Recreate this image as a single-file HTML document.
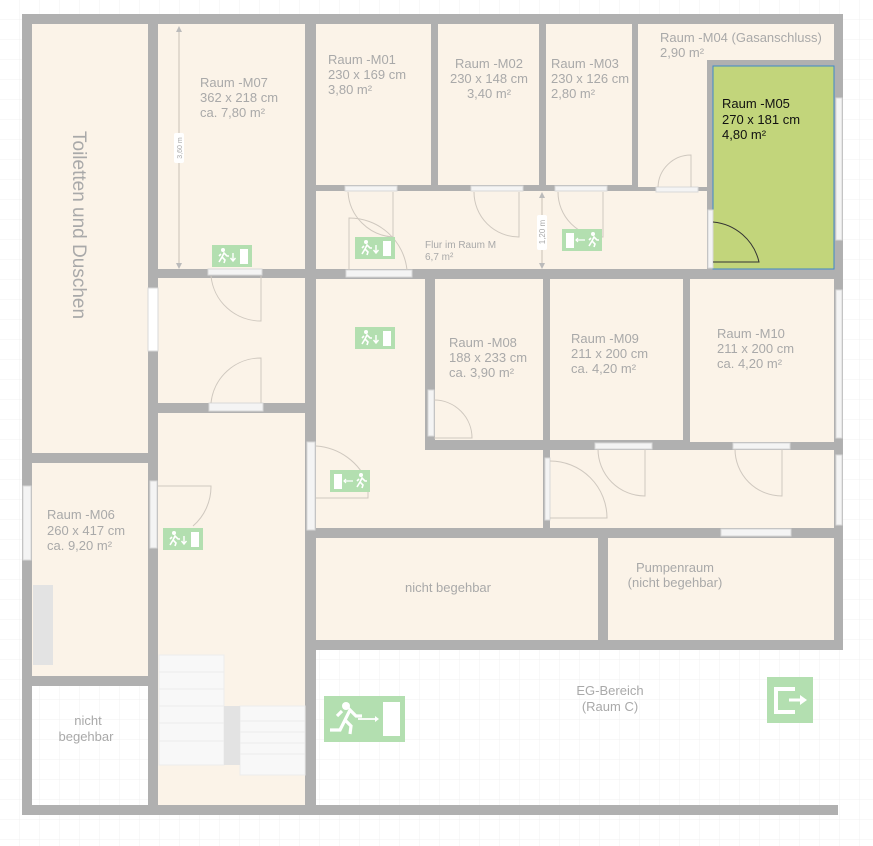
<!DOCTYPE html>
<html><head><meta charset="utf-8"><style>
html,body{margin:0;padding:0;width:873px;height:846px;overflow:hidden;background:#fff}
svg{display:block}
text{font-family:"Liberation Sans",sans-serif;fill:#a9a9a9;font-size:13px}
</style></head><body>
<svg width="873" height="846" viewBox="0 0 873 846" xmlns="http://www.w3.org/2000/svg">
<defs>
<pattern id="g" width="20" height="20" patternUnits="userSpaceOnUse"><path d="M20 0V20M0 20H20" stroke="#f0f0f0" stroke-width="1" fill="none"/></pattern>
<g id="ex">
<rect width="40" height="22" fill="#b3dfb0"/>
<circle cx="11" cy="5" r="2" fill="#fff"/>
<path d="M7 17l3-5 2-4 3 3h2M10 12l3 3-1 3M9 9l-2 2" stroke="#fff" stroke-width="1.6" fill="none"/>
<path d="M21 8v8M18.5 13l2.5 3 2.5-3" stroke="#fff" stroke-width="1.4" fill="none"/>
<rect x="28" y="4" width="8" height="15" fill="#fff"/>
</g>
<g id="exl">
<rect width="40" height="22" fill="#b3dfb0"/>
<rect x="4" y="4" width="8" height="15" fill="#fff"/>
<path d="M14 11h9M16 9l-2 2 2 2" stroke="#fff" stroke-width="1.2" fill="none"/>
<circle cx="31" cy="5" r="2" fill="#fff"/>
<path d="M27 17l3-5 2-4 3 3h2M30 12l3 3-1 3M29 9l-2 2" stroke="#fff" stroke-width="1.6" fill="none"/>
</g>
</defs>
<rect width="873" height="846" fill="url(#g)"/>
<!-- walls -->
<rect x="22" y="14" width="821" height="636" fill="#b0b0b0"/>
<rect x="22" y="450" width="294" height="365" fill="#b0b0b0"/>
<rect x="305" y="640" width="538" height="10" fill="#b0b0b0"/>
<rect x="22" y="805" width="816" height="10" fill="#b0b0b0"/>
<rect x="316" y="650" width="527" height="155" fill="#fff"/>
<rect x="316" y="650" width="527" height="155" fill="url(#g)"/>
<!-- floors -->
<g fill="#fbf3e8">
<rect x="32" y="24" width="116" height="429"/>
<rect x="158" y="24" width="147" height="245"/>
<rect x="316" y="24" width="115" height="161"/>
<rect x="438" y="24" width="101" height="161"/>
<rect x="546" y="24" width="86" height="161"/>
<rect x="638" y="24" width="196" height="36"/>
<rect x="638" y="24" width="69" height="163"/>
<rect x="316" y="191" width="391" height="78"/>
<rect x="158" y="278" width="147" height="125"/>
<rect x="158" y="413" width="147" height="392"/>
<rect x="316" y="279" width="109" height="249"/>
<rect x="316" y="450" width="227" height="78"/>
<rect x="435" y="279" width="108" height="161"/>
<rect x="550" y="279" width="133" height="161"/>
<rect x="690" y="279" width="144" height="163"/>
<rect x="550" y="450" width="284" height="78"/>
<rect x="316" y="538" width="282" height="102"/>
<rect x="608" y="538" width="226" height="102"/>
<rect x="32" y="463" width="116" height="213"/>
</g>
<rect x="32" y="686" width="116" height="119" fill="#fff"/>
<rect x="32" y="686" width="116" height="119" fill="url(#g)"/>
<rect x="713" y="66" width="121" height="203" fill="#c2d57b" stroke="#3e88c8" stroke-width="1"/>
<rect x="33" y="585" width="20" height="80" fill="#e3e3e3"/>
<!-- stairs -->
<g fill="#f8f8f8" stroke="#ececec">
<rect x="159" y="655" width="65" height="17"/><rect x="159" y="672" width="65" height="17"/><rect x="159" y="689" width="65" height="17"/><rect x="159" y="706" width="65" height="17"/><rect x="159" y="723" width="65" height="18"/><rect x="159" y="741" width="65" height="24"/>
<rect x="240" y="706" width="65" height="15"/><rect x="240" y="721" width="65" height="11"/><rect x="240" y="732" width="65" height="11"/><rect x="240" y="743" width="65" height="11"/><rect x="240" y="754" width="65" height="21"/>
</g>
<rect x="224" y="706" width="16" height="59" fill="#e3e3e3"/>
<!-- windows / door frames -->
<g fill="#f4f4f4" stroke="#d8d8d8" stroke-width="1">
<rect x="148" y="288" width="10" height="63" fill="#fff"/>
<rect x="23" y="486" width="8" height="74"/>
<rect x="150" y="481" width="7" height="67"/>
<rect x="208" y="269" width="54" height="6"/>
<rect x="209" y="403" width="54" height="8"/>
<rect x="345" y="186" width="52" height="5"/>
<rect x="346" y="270" width="66" height="7"/>
<rect x="471" y="186" width="52" height="5"/>
<rect x="555" y="186" width="52" height="5"/>
<rect x="656" y="187" width="42" height="5"/>
<rect x="708" y="210" width="5" height="58"/>
<rect x="836" y="98" width="6" height="142"/>
<rect x="836" y="290" width="6" height="148"/>
<rect x="836" y="455" width="6" height="70"/>
<rect x="307" y="442" width="8" height="88" />
<rect x="428" y="390" width="6" height="46"/>
<rect x="545" y="458" width="5" height="62"/>
<rect x="595" y="443" width="57" height="6"/>
<rect x="733" y="443" width="57" height="6"/>
<rect x="721" y="529" width="70" height="7"/>
</g>
<!-- door swings -->
<g fill="none" stroke="#cfc8bf" stroke-width="1">
<path d="M211 276a50 50 0 0 0 50 45V276"/>
<path d="M211 403a50 50 0 0 1 50-45V403"/>
<path d="M348 192a48 48 0 0 0 45 45V192"/>
<path d="M349 270V218a58 58 0 0 1 58 52"/>
<path d="M474 192a45 45 0 0 0 45 45V192"/>
<path d="M558 192a45 45 0 0 0 45 45V192"/>
<path d="M658 187a33 33 0 0 1 33-32V187"/>
<path d="M434 400a38 38 0 0 1 38 38H434"/>
<path d="M550 461a57 57 0 0 1 57 57H550"/>
<path d="M598 449a47 47 0 0 0 47 47V449"/>
<path d="M735 449a47 47 0 0 0 47 47V449"/>
<path d="M158 486h53a52 52 0 0 1-18 40"/>
<path d="M316 446a60 60 0 0 1 52 38v14H316"/>
</g>
<path d="M713 222a52 52 0 0 1 46 40H713" fill="none" stroke="#333" stroke-width="1"/>
<!-- dimension lines -->
<g stroke="#c8c0b6" stroke-width="1" fill="#bbb">
<line x1="179" y1="27" x2="179" y2="268"/><path d="M176 32l3-6 3 6zM176 263l3 6 3-6z" stroke="none"/>
<line x1="542" y1="193" x2="542" y2="268"/><path d="M539 198l3-6 3 6zM539 263l3 6 3-6z" stroke="none"/>
</g>
<rect x="174" y="133" width="10" height="30" fill="#fff" rx="2"/>
<rect x="537" y="215" width="10" height="35" fill="#fff" rx="2"/>
<text transform="translate(182,148) rotate(-90)" text-anchor="middle" style="font-size:7px">3,60 m</text>
<text transform="translate(545,232) rotate(-90)" text-anchor="middle" style="font-size:8px">1,20 m</text>
<!-- exit signs -->
<use href="#ex" x="212" y="245"/>
<use href="#ex" x="355" y="237"/>
<use href="#ex" x="355" y="327"/>
<use href="#ex" x="163" y="528"/>
<use href="#exl" x="330" y="470"/>
<use href="#exl" x="562" y="229"/>
<g transform="translate(324,696)">
<rect width="81" height="46" fill="#b3dfb0"/>
<circle cx="22" cy="10" r="4" fill="#fff"/>
<path d="M6 34h10l5-10 5-10 6 6h6M21 24l6 6-1 8M18 15l-5 5" stroke="#fff" stroke-width="3.2" fill="none"/>
<path d="M34 23h18" stroke="#fff" stroke-width="1.8"/><path d="M51 20l4 3-4 3z" fill="#fff"/>
<rect x="59" y="6" width="17" height="34" fill="#fff"/>
</g>
<g transform="translate(767,677)">
<rect width="46" height="46" fill="#b3dfb0"/>
<path d="M28 12H9v23h19" stroke="#fff" stroke-width="4" fill="none"/>
<path d="M22 23h12" stroke="#fff" stroke-width="3"/><path d="M33 18l7 5-7 5z" fill="#fff"/>
</g>
<!-- labels -->
<text transform="translate(73,225) rotate(90)" text-anchor="middle" style="font-size:19px">Toiletten und Duschen</text>
<text x="200" y="87">Raum -M07</text><text x="200" y="102">362 x 218 cm</text><text x="200" y="117">ca. 7,80 m²</text>
<text x="328" y="64">Raum -M01</text><text x="328" y="79">230 x 169 cm</text><text x="328" y="94">3,80 m²</text>
<text x="489" y="68" text-anchor="middle">Raum -M02</text><text x="489" y="83" text-anchor="middle">230 x 148 cm</text><text x="489" y="98" text-anchor="middle">3,40 m²</text>
<text x="551" y="68">Raum -M03</text><text x="551" y="83">230 x 126 cm</text><text x="551" y="98">2,80 m²</text>
<text x="660" y="42">Raum -M04 (Gasanschluss)</text><text x="660" y="57">2,90 m²</text>
<text x="722" y="108" style="fill:#111">Raum -M05</text><text x="722" y="124" style="fill:#111">270 x 181 cm</text><text x="722" y="139" style="fill:#111">4,80 m²</text>
<text x="425" y="248" style="font-size:10px">Flur im Raum M</text><text x="425" y="260" style="font-size:10px">6,7 m²</text>
<text x="449" y="347">Raum -M08</text><text x="449" y="362">188 x 233 cm</text><text x="449" y="377">ca. 3,90 m²</text>
<text x="571" y="343">Raum -M09</text><text x="571" y="358">211 x 200 cm</text><text x="571" y="373">ca. 4,20 m²</text>
<text x="717" y="338">Raum -M10</text><text x="717" y="353">211 x 200 cm</text><text x="717" y="368">ca. 4,20 m²</text>
<text x="47" y="519">Raum -M06</text><text x="47" y="535">260 x 417 cm</text><text x="47" y="550">ca. 9,20 m²</text>
<text x="448" y="592" text-anchor="middle">nicht begehbar</text>
<text x="675" y="572" text-anchor="middle">Pumpenraum</text><text x="675" y="587" text-anchor="middle">(nicht begehbar)</text>
<text x="88" y="725" text-anchor="middle">nicht</text><text x="86" y="741" text-anchor="middle">begehbar</text>
<text x="610" y="695" text-anchor="middle">EG-Bereich</text><text x="610" y="711" text-anchor="middle">(Raum C)</text>
</svg>
</body></html>
